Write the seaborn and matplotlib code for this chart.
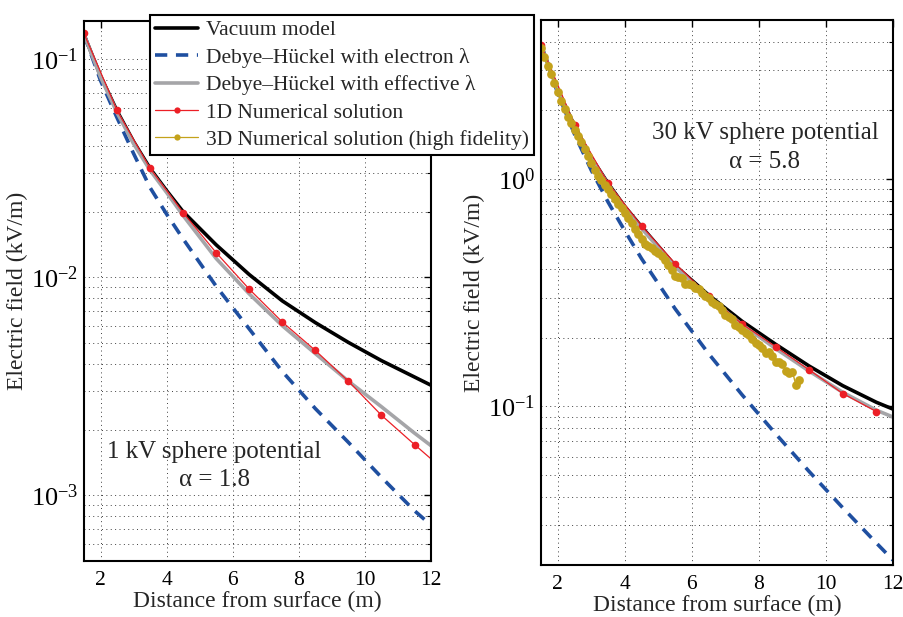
import numpy as np
import pandas as pd
import matplotlib
matplotlib.use("Agg")
import matplotlib.pyplot as plt
from matplotlib.lines import Line2D
from matplotlib.ticker import LogLocator, NullFormatter, LogFormatterSciNotation
import seaborn as sns

# -----------------------------------------------------------------------------
# data (distance from surface in m, field in kV/m)
# -----------------------------------------------------------------------------
dist_curve = [1.5, 2.0, 2.5, 3.0, 3.5, 4.0, 4.5, 5.5, 6.5, 7.5, 8.5, 9.5, 10.5, 11.5, 12.0]

# 1 kV sphere, alpha = 1.8
vac_1kv = [0.130, 0.084, 0.058, 0.042, 0.0316, 0.025, 0.0200, 0.0141, 0.0103,
           0.0078, 0.0062, 0.00503, 0.00415, 0.00349, 0.0032]
dh_elec_1kv = [0.130, 0.080, 0.054, 0.037, 0.0258, 0.0195, 0.0150, 0.0091, 0.0058,
               0.0037, 0.0025, 0.00175, 0.00121, 0.00085, 0.00073]
dh_eff_1kv = [0.130, 0.083, 0.057, 0.041, 0.031, 0.0245, 0.0192, 0.0122, 0.0084,
              0.0060, 0.00447, 0.00334, 0.00255, 0.00193, 0.00169]
dist_1d_1kv = [1.5, 2.5, 3.5, 4.5, 5.5, 6.5, 7.5, 8.5, 9.5, 10.5, 11.5, 12.0]
num1d_1kv = [0.1315, 0.0583, 0.0316, 0.0198, 0.01297, 0.00883, 0.00624, 0.00462,
             0.00334, 0.00233, 0.00171, 0.00147]

# 30 kV sphere, alpha = 5.8
vac_30kv = [3.87, 2.46, 1.71, 1.24, 0.955, 0.755, 0.615, 0.415, 0.308, 0.236,
            0.187, 0.150, 0.123, 0.104, 0.097]
dh_elec_30kv = [3.87, 2.38, 1.57, 1.09, 0.79, 0.59, 0.445, 0.268, 0.170, 0.112,
                0.0755, 0.0515, 0.0357, 0.025, 0.021]
dh_eff_30kv = [3.87, 2.44, 1.70, 1.23, 0.945, 0.745, 0.605, 0.41, 0.302, 0.228,
               0.179, 0.1425, 0.115, 0.096, 0.0895]
dist_1d_30kv = [1.5, 2.5, 3.5, 4.5, 5.5, 6.5, 7.5, 8.5, 9.5, 10.5, 11.5]
num1d_30kv = [3.87, 1.73, 0.957, 0.620, 0.424, 0.305, 0.2296, 0.1825, 0.1443,
              0.1136, 0.0947]
dist_3d_30kv = [1.5, 1.6, 1.7, 1.8, 1.9, 2.0, 2.1, 2.2, 2.3, 2.4, 2.5, 2.6, 2.7,
                2.8, 2.9, 3.0, 3.1, 3.2, 3.3, 3.4, 3.5, 3.6, 3.7, 3.8, 3.9, 4.0,
                4.1, 4.2, 4.3, 4.4, 4.5, 4.6, 4.7, 4.8, 4.9, 5.0, 5.1, 5.2, 5.3,
                5.4, 5.5, 5.6, 5.7, 5.8, 5.9, 6.0, 6.1, 6.2, 6.3, 6.4, 6.5, 6.6,
                6.7, 6.8, 6.9, 7.0, 7.1, 7.2, 7.3, 7.4, 7.5, 7.6, 7.7, 7.8, 7.9,
                8.0, 8.1, 8.2, 8.3, 8.4, 8.5, 8.6, 8.7, 8.8, 8.9, 9.0, 9.1, 9.2]
num3d_30kv = [3.78, 3.42, 3.14, 2.89, 2.63, 2.40, 2.20, 2.03, 1.88, 1.754, 1.64,
              1.543, 1.447, 1.353, 1.261, 1.171, 1.095, 1.030, 0.985, 0.944,
              0.904, 0.859, 0.817, 0.777, 0.746, 0.709, 0.674, 0.639, 0.601,
              0.574, 0.545, 0.519, 0.508, 0.498, 0.483, 0.470, 0.456, 0.438,
              0.419, 0.399, 0.373, 0.370, 0.367, 0.346, 0.345, 0.342, 0.332,
              0.326, 0.315, 0.305, 0.299, 0.288, 0.282, 0.275, 0.264, 0.252,
              0.247, 0.241, 0.228, 0.224, 0.216, 0.210, 0.2055, 0.197, 0.190,
              0.185, 0.1796, 0.1719, 0.1731, 0.1662, 0.157, 0.157, 0.1533,
              0.1423, 0.1395, 0.1418, 0.124, 0.1304]

legend_labels = ["Vacuum model",
                 "Debye\u2013H\u00fcckel with electron \u03bb",
                 "Debye\u2013H\u00fcckel with effective \u03bb",
                 "1D Numerical solution",
                 "3D Numerical solution (high fidelity)"]

# colours
C_VAC = "black"
C_DHE = "#1f4fa0"
C_DHF = "#a5a5a8"
C_1D = "#ec1f26"
C_3D = "#c4a21b"
DASH = (0, (3.4, 2.4))

sns.set_style("white")
plt.rcParams["font.family"] = ["Liberation Serif", "DejaVu Serif"]
plt.rcParams["mathtext.fontset"] = "stix"

fig = plt.figure(figsize=(9.04, 6.17), dpi=100)
ax1 = fig.add_axes([0.0929, 0.0908, 0.3839, 0.8752])
ax2 = fig.add_axes([0.5985, 0.0843, 0.3894, 0.8833])


def draw_panel(ax, vac, dhe, dhf, x1d, y1d, mark_last):
    sns.lineplot(x=dist_curve, y=vac, ax=ax, color=C_VAC, lw=2.6, sort=False,
                 estimator=None)
    sns.lineplot(x=dist_curve, y=dhe, ax=ax, color=C_DHE, lw=2.6, sort=False,
                 estimator=None, linestyle=DASH)
    sns.lineplot(x=dist_curve, y=dhf, ax=ax, color=C_DHF, lw=2.6, sort=False,
                 estimator=None)
    n = len(x1d) if mark_last else len(x1d) - 1
    sns.lineplot(x=x1d, y=y1d, ax=ax, color=C_1D, lw=0.9, sort=False,
                 estimator=None, marker="o", markersize=5.5, markeredgewidth=0,
                 markevery=list(range(n)))


draw_panel(ax1, vac_1kv, dh_elec_1kv, dh_eff_1kv, dist_1d_1kv, num1d_1kv, False)
draw_panel(ax2, vac_30kv, dh_elec_30kv, dh_eff_30kv, dist_1d_30kv, num1d_30kv, True)
sns.lineplot(x=dist_3d_30kv, y=num3d_30kv, ax=ax2, color=C_3D, lw=1.0, sort=False,
             estimator=None, marker="o", markersize=6.3, markeredgewidth=0)

for ax, ylim in [(ax1, (5e-4, 0.15)), (ax2, (0.02, 5.0))]:
    ax.set_yscale("log")
    ax.set_xlim(1.5, 12)
    ax.set_ylim(*ylim)
    ax.set_xticks([2, 4, 6, 8, 10, 12])
    ax.yaxis.set_major_locator(LogLocator(base=10))
    ax.yaxis.set_minor_locator(LogLocator(base=10, subs=np.arange(2, 10)))
    ax.yaxis.set_major_formatter(LogFormatterSciNotation())
    ax.yaxis.set_minor_formatter(NullFormatter())
    ax.grid(True, which="major", axis="both", color="0.25", lw=0.7,
            linestyle=(0, (1, 3.5)))
    ax.grid(True, which="minor", axis="y", color="0.25", lw=0.7,
            linestyle=(0, (1, 3.5)))
    ax.tick_params(which="both", direction="in", top=True, right=True,
                   colors="black")
    ax.tick_params(axis="x", which="major", pad=7, labelsize=15.5)
    ax.tick_params(axis="y", which="major", pad=4, labelsize=19)
    ax.tick_params(which="major", length=5, width=1.0)
    ax.tick_params(which="minor", length=3, width=0.8)
    for sp in ax.spines.values():
        sp.set_color("black")
        sp.set_linewidth(1.5)
    ax.set_xlabel("Distance from surface (m)", fontsize=17, labelpad=1)
    ax.set_ylabel("Electric field (kV/m)", fontsize=17, labelpad=2)

ax1.text(0.375, 0.202, "1 kV sphere potential", transform=ax1.transAxes,
         ha="center", va="center", fontsize=18)
ax1.text(0.375, 0.15, "\u03b1 = 1.8", transform=ax1.transAxes,
         ha="center", va="center", fontsize=18)
ax2.text(0.636, 0.793, "30 kV sphere potential", transform=ax2.transAxes,
         ha="center", va="center", fontsize=18)
ax2.text(0.636, 0.739, "\u03b1 = 5.8", transform=ax2.transAxes,
         ha="center", va="center", fontsize=18)

handles = [
    Line2D([], [], color=C_VAC, lw=2.6),
    Line2D([], [], color=C_DHE, lw=2.6, linestyle=DASH),
    Line2D([], [], color=C_DHF, lw=2.6),
    Line2D([], [], color=C_1D, lw=0.9, marker="o", markersize=4.5, markeredgewidth=0),
    Line2D([], [], color=C_3D, lw=0.9, marker="o", markersize=4.5, markeredgewidth=0),
]
leg = fig.legend(handles, legend_labels, loc="upper left",
                 bbox_to_anchor=(150 / 904, 1 - 15 / 617), fontsize=15.5,
                 frameon=True, fancybox=False, framealpha=1, edgecolor="black",
                 handlelength=2.0, handletextpad=0.35, labelspacing=0.34,
                 borderpad=0.25, borderaxespad=0)
leg.get_frame().set_linewidth(1.5)

fig.savefig("out.png", dpi=100)
